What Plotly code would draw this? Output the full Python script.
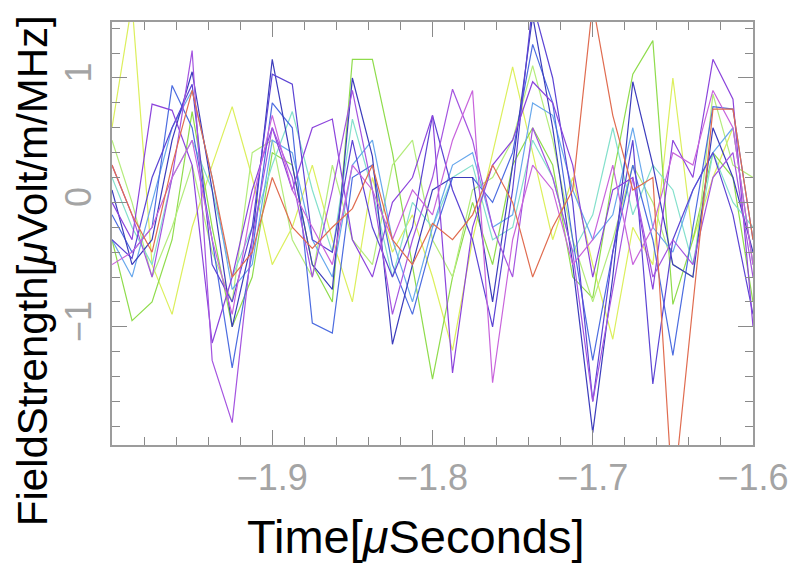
import plotly.graph_objects as go

# Sample times [micro-seconds]
time_us = [-2.0, -1.9875, -1.975, -1.9625, -1.95, -1.9375, -1.925, -1.9125,
           -1.9, -1.8875, -1.875, -1.8625, -1.85, -1.8375, -1.825, -1.8125,
           -1.8, -1.7875, -1.775, -1.7625, -1.75, -1.7375, -1.725, -1.7125,
           -1.7, -1.6875, -1.675, -1.6625, -1.65, -1.6375, -1.625, -1.6125, -1.6]

# Field strength traces [muVolt/m/MHz]
yellow = [0.6, 1.6, -0.5, -0.9, -0.2, 0.3, 0.77, 0.2, -0.5, -0.2, 0.3, -0.3, -0.8, 0.2, -0.4, -0.1,
          -0.6, -1.19, -0.3, 0.4, 1.09, 0.4, -0.3, 0.2, -0.5, -1.1, -0.2, -0.5, 1.0, -0.3, 0.2, 0.6, -0.5]
green = [-0.3, -0.95, -0.8, -0.3, 0.73, -0.2, -1.0, -0.6, 0.4, 0.3, -0.5, -0.8, 1.15, 1.15, 0.4, -0.5,
         -1.42, -0.6, 0.0, -0.5, 0.3, 0.6, 0.3, -0.6, -0.77, 0.2, 1.03, 1.3, -0.82, -0.3, 0.4, 0.2, -0.8]
light_green = [0.5, 0.0, -0.6, -0.2, 0.3, -0.4, -0.8, 0.4, 0.5, -0.3, -0.6, 0.3, -0.3, -0.5, 0.3, 0.5,
               -0.3, -0.6, 0.1, 0.2, 0.5, 1.1, 0.5, -0.3, -0.8, -0.3, 0.3, 0.0, -0.5, -0.6, 0.87, 0.3, 0.2]
cyan = [0.2, -0.2, -0.5, 0.2, 0.5, 0.1, -0.6, -0.2, 0.3, 0.73, 0.1, -0.4, 0.67, 0.1, -0.6, 0.0,
        -0.2, 0.2, 0.3, -0.3, -0.2, 0.5, 0.2, -0.4, -0.1, 0.6, -0.1, 0.3, 0.1, -0.5, 0.4, 0.0, -0.2]
light_blue = [-0.3, -0.6, 0.0, 0.6, 0.9, 0.2, -0.7, -0.5, 0.5, 0.4, -0.3, -0.6, 0.3, 0.5, -0.3, -0.8,
              -0.2, 0.3, 0.4, -0.2, -0.1, 0.8, 0.7, 0.1, -0.3, -0.1, 0.6, -0.2, -0.4, 0.1, 0.4, 0.6, -0.5]
blue = [-0.1, -0.4, -0.2, 0.94, 0.6, -0.3, -1.33, -0.4, 0.8, 0.6, -0.97, -1.05, 0.2, 0.3, -0.5, -0.9,
        -0.3, 0.2, 0.2, 0.0, 0.4, 1.27, 0.8, -0.3, -1.27, -0.4, 0.3, -0.3, -1.23, -0.2, 0.77, 0.75, -0.3]
dark_blue = [0.1, -0.5, -0.3, 0.5, 1.05, 0.1, -1.0, -0.3, 1.15, 0.3, -0.5, -0.7, 1.0, 0.37, -1.14, -0.5,
             0.1, 0.2, 0.2, -0.8, 0.3, 1.5, 0.6, -0.5, -1.85, -0.6, 0.97, 0.3, -0.5, -0.6, 0.6, 0.2, -0.4]
indigo = [-0.3, -0.45, 0.2, 0.6, 0.95, -0.5, -0.8, -0.2, 1.03, 0.95, -0.3, -0.4, 0.5, -0.2, -0.6, -0.2,
          0.7, 0.1, -0.3, -1.0, 0.1, 1.6, 1.0, 0.0, -1.6, -0.4, 0.5, -1.46, -0.3, 0.1, 0.4, -0.1, -0.9]
purple = [0.0, -0.3, 0.79, 0.74, 0.3, -1.13, -0.6, 0.1, 0.6, 0.1, 0.6, 0.67, -0.3, -0.6, 0.0, 0.2,
          0.7, -1.37, -0.2, 0.3, 0.5, 0.97, 0.8, 0.3, -0.6, 0.1, 0.2, -0.7, 0.5, 0.2, 1.15, 0.83, -1.0]
violet = [0.3, -0.1, -0.6, 0.2, 1.22, -1.27, -1.77, -0.3, 0.6, 0.2, -0.6, 0.1, 0.9, 0.1, -0.9, -0.3,
          0.2, 0.91, 0.5, -0.2, -0.6, 0.6, 0.2, -0.4, -1.6, -0.7, 0.2, -0.6, -0.3, -0.5, 0.2, 0.4, -0.6]
magenta = [-0.5, -0.4, -0.2, 0.2, 0.5, -0.3, -0.9, 0.0, 0.7, 0.1, -0.2, -0.5, 0.3, 0.1, -0.3, 0.1,
           -0.1, 0.5, 0.9, -1.45, -0.3, 0.3, 0.1, -0.5, -0.3, 0.3, -0.5, -0.2, 0.4, 0.3, 0.9, 0.6, -0.5]
red = [0.3, -0.1, -0.4, 0.3, 0.9, 0.2, -0.6, -0.4, 0.2, -0.2, -0.37, -0.2, -0.05, 0.3, -0.3, -0.5,
       -0.17, -0.3, -0.1, 0.3, 0.0, -0.6, -0.2, 0.1, 1.6, 0.7, 0.1, 0.2, -2.4, -0.8, 0.75, 0.75, -0.3]

series = [
    (yellow, "#dcef5c"), (green, "#8fdc4c"), (light_green, "#b4ec7c"), (cyan, "#84e0cc"),
    (light_blue, "#68a8ec"), (blue, "#4c6ce0"), (dark_blue, "#3c3cbc"), (indigo, "#5c44d4"),
    (purple, "#8c44dc"), (violet, "#a454e0"), (magenta, "#c864dc"), (red, "#e06c50"),
]

fig = go.Figure()
for vals, col in series:
    fig.add_trace(go.Scatter(x=time_us, y=vals, mode="lines",
                             line=dict(color=col, width=1.2), showlegend=False,
                             hoverinfo="skip"))

FONT = "Liberation Sans, Arial, sans-serif"
axis_common = dict(
    showline=True, linecolor="#9c9c9c", linewidth=1.5, mirror="ticks",
    ticks="inside", ticklen=15, tickwidth=1.2, tickcolor="#8a8a8a",
    showgrid=False, zeroline=False,
    tickfont=dict(family=FONT, size=36, color="#a4a4a4"),
)

fig.update_xaxes(range=[-2.0, -1.6], tickvals=[-1.9, -1.8, -1.7, -1.6],
                 ticktext=["\u22121.9", "\u22121.8", "\u22121.7", "\u22121.6"],
                 minor=dict(ticks="inside", ticklen=8, dtick=0.02, tick0=-2.0,
                            tickcolor="#8a8a8a", tickwidth=1.2, showgrid=False),
                 ticklabelstandoff=0, **axis_common)
fig.update_yaxes(range=[-1.95, 1.45], tickvals=[-1, 0, 1],
                 ticktext=["\u22121", "0", "1"], tickangle=-90,
                 minor=dict(ticks="inside", ticklen=8, dtick=0.2, tick0=0,
                            tickcolor="#8a8a8a", tickwidth=1.2, showgrid=False),
                 ticklabelstandoff=5, **axis_common)

fig.add_annotation(text="Time[<i>\u03bc</i>Seconds]", xref="paper", yref="paper",
                   x=0.474, y=-0.148, xanchor="center", yanchor="top", showarrow=False,
                   font=dict(family=FONT, size=47, color="#000000"))
fig.add_annotation(text="FieldStrength[<i>\u03bc</i>Volt/m/MHz]", xref="paper", yref="paper",
                   x=-0.125, y=0.413, xanchor="center", yanchor="middle", textangle=-90,
                   showarrow=False,
                   font=dict(family=FONT, size=42, color="#000000"))

# page body adds an 8px offset, so the figure is sized to compensate
fig.update_layout(width=793, height=555, margin=dict(l=104, r=45, t=13, b=118),
                  paper_bgcolor="white", plot_bgcolor="white")

fig.write_html("out.html")
